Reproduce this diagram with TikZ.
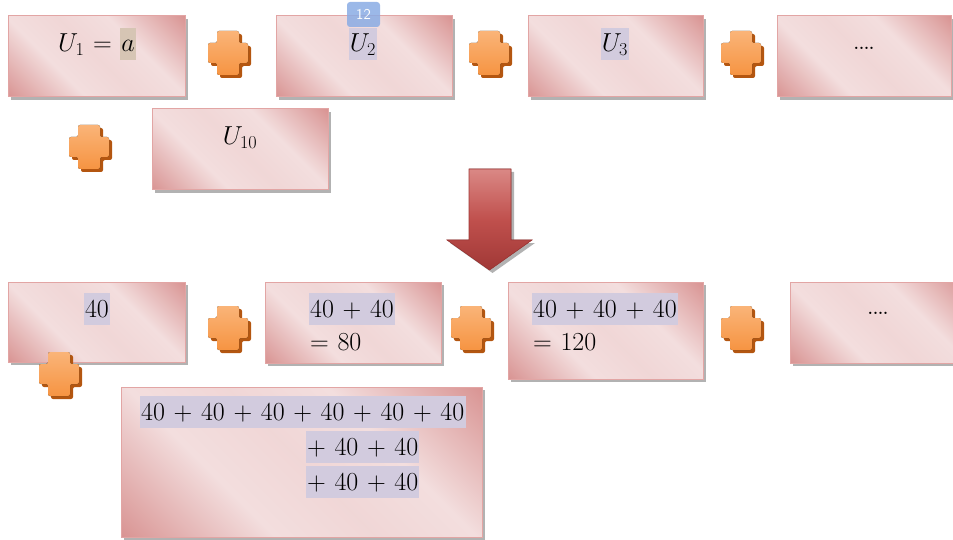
\documentclass[tikz,border=0pt]{standalone}
\usepackage{fix-cm}
\usepackage{tikz}
\usetikzlibrary{shadows}

\definecolor{pkdark}{RGB}{216,146,145}
\definecolor{pklight}{RGB}{243,222,222}
\definecolor{pkborder}{RGB}{226,165,164}
\definecolor{hllav}{RGB}{210,203,222}
\definecolor{hltan}{RGB}{214,197,180}
\definecolor{orlight}{RGB}{250,180,120}
\definecolor{ormain}{RGB}{246,148,66}
\definecolor{ordark}{RGB}{180,86,16}
\definecolor{arlight}{RGB}{218,136,133}
\definecolor{armain}{RGB}{192,80,77}
\definecolor{ardark}{RGB}{160,56,54}
\definecolor{badgeblue}{RGB}{138,172,228}

\pgfdeclarehorizontalshading{pinkshade}{100bp}{color(0bp)=(pkdark); color(14bp)=(pkdark); color(36bp)=(pklight); color(50bp)=(pklight!90!pkdark); color(64bp)=(pklight); color(86bp)=(pkdark); color(100bp)=(pkdark)}

\newcommand{\hlmark}[2][hllav]{{\setlength{\fboxsep}{1pt}\colorbox{#1}{\rule[-7pt]{0pt}{30pt}#2}}}
\newcommand{\termfont}{\fontsize{26}{34}\selectfont\medmuskip=6mu\relax\thickmuskip=6mu\relax}

\begin{document}
\begin{tikzpicture}[x=1pt, y=-1pt,
    sumbox/.style={draw=pkborder, line width=1pt, shading=pinkshade, shading angle=45,
        drop shadow={shadow xshift=3pt, shadow yshift=-3pt, fill=black!60, opacity=.5}, inner sep=0pt},
    term/.style={inner sep=0pt, font=\termfont},
    dots/.style={inner sep=0pt, font=\fontsize{16}{18}\selectfont\bfseries},
    badge/.style={rounded corners=3pt, fill=badgeblue, fill opacity=.85, text opacity=1, text=white,
        minimum width=33pt, minimum height=25pt, inner sep=0pt, font=\sffamily\fontsize{15}{15}\selectfont}]
    \useasboundingbox (0,0) rectangle (953,540);

    \node[sumbox, minimum width=177pt, minimum height=81pt] (u1) at (96.5,56.5) {};
    \node[sumbox, minimum width=176pt, minimum height=81pt] (u2) at (364,56.5) {};
    \node[sumbox, minimum width=175pt, minimum height=81pt] (u3) at (615.5,56.5) {};
    \node[sumbox, minimum width=174pt, minimum height=81pt] (ud) at (864,56.5) {};
    \node[sumbox, minimum width=176pt, minimum height=81pt] (u10) at (240,149.5) {};

    \node[sumbox, minimum width=177pt, minimum height=80pt] (s1) at (96.5,322) {};
    \node[sumbox, minimum width=176pt, minimum height=81pt] (s2) at (353,322.5) {};
    \node[sumbox, minimum width=195pt, minimum height=97pt] (s3) at (605.5,330.5) {};
    \node[sumbox, minimum width=176pt, minimum height=81pt] (sd) at (878,322.5) {};
    \node[sumbox, minimum width=361pt, minimum height=150pt] (s10) at (301.5,462) {};

    \node[term, anchor=base] (t1) at (97,52) {$U_1 ={}$\hlmark[hltan]{$a$}};
    \node[term, anchor=base] (t2) at (363,52) {\hlmark{$U_2$}};
    \node[term, anchor=base] (t3) at (615,52) {\hlmark{$U_3$}};
    \node[dots, anchor=base] (td) at (864,50) {....};
    \node[term, anchor=base] (t10) at (240,145) {$U_{10}$};

    \node[term, anchor=base] (b1) at (97,317) {\hlmark{$40$}};
    \node[term, anchor=base west] (b2a) at (309,317) {\hlmark{$40+40$}};
    \node[term, anchor=base west] (b2b) at (310,350) {$=80$};
    \node[term, anchor=base west] (b3a) at (532,317) {\hlmark{$40+40+40$}};
    \node[term, anchor=base west] (b3b) at (533,350) {$=120$};
    \node[dots, anchor=base] (bd) at (878,314) {....};

    \node[term, anchor=base west] (c1) at (140,420) {\hlmark{$40+40+40+40+40+40$}};
    \node[term, anchor=base west] (c2) at (306,455) {\hlmark{${+}\mskip6mu 40+40$}};
    \node[term, anchor=base west] (c3) at (306,490) {\hlmark{${+}\mskip6mu 40+40$}};

    \foreach \px/\py in {228/53, 489/53, 741/53, 89/147, 228/328, 471/328, 741/328, 59/374}{
        \fill[ordark, shift={(\px+3,\py+3)}, rounded corners=2pt]
            (-11,-22) -- (11,-22) -- (11,-10) -- (20,-10) -- (20,10) -- (11,10) -- (11,22)
            -- (-11,22) -- (-11,10) -- (-20,10) -- (-20,-10) -- (-11,-10) -- cycle;
        \fill[top color=orlight, bottom color=ormain, shift={(\px,\py)}, rounded corners=2pt]
            (-11,-22) -- (11,-22) -- (11,-10) -- (20,-10) -- (20,10) -- (11,10) -- (11,22)
            -- (-11,22) -- (-11,10) -- (-20,10) -- (-20,-10) -- (-11,-10) -- cycle;
    }

    \fill[black!60, opacity=.5, shift={(3,3)}]
        (469,169) -- (511,169) -- (511,240) -- (532,240) -- (489.5,270) -- (447,240) -- (469,240) -- cycle;
    \fill[top color=arlight, bottom color=ardark, middle color=armain, draw=ardark, line width=.6pt]
        (469,169) -- (511,169) -- (511,240) -- (532,240) -- (489.5,270) -- (447,240) -- (469,240) -- cycle;

    \node[badge] (pg) at (363.5,14.5) {12};
\end{tikzpicture}
\end{document}
